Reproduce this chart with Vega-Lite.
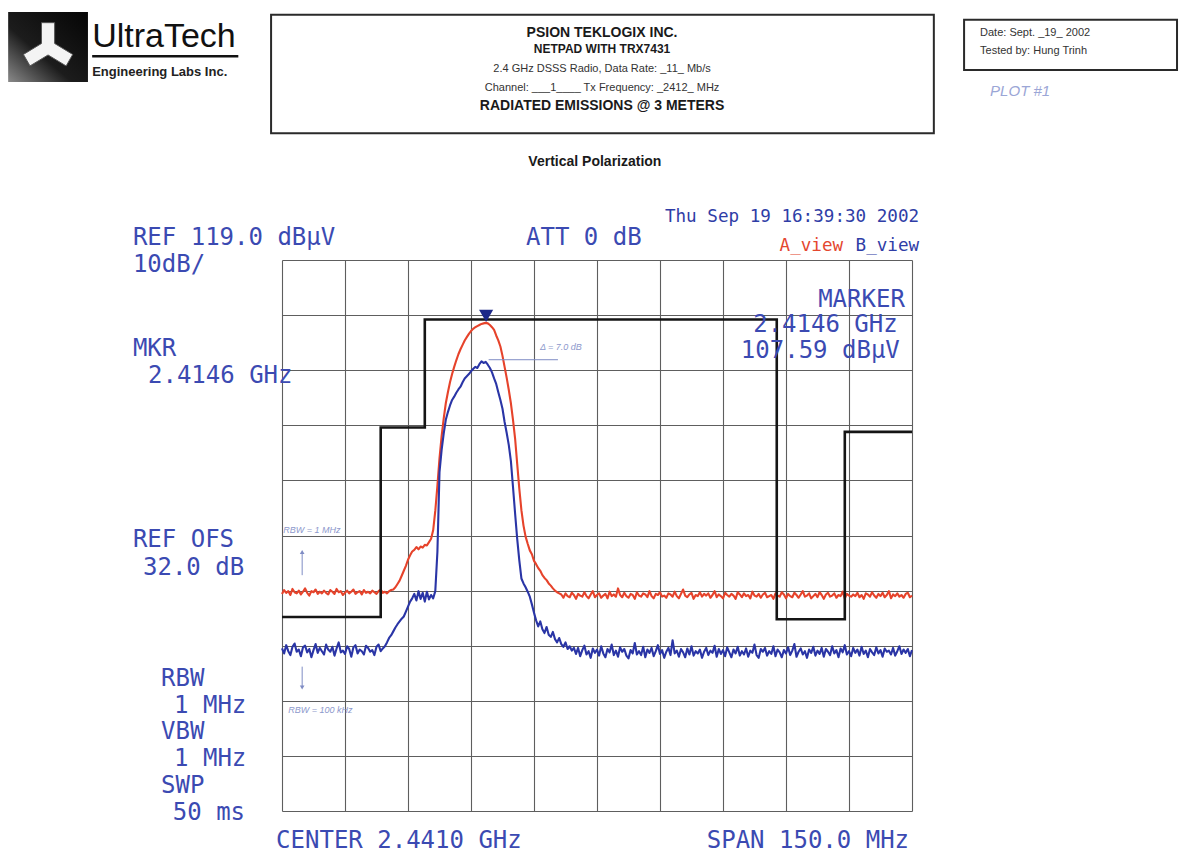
{
  "$schema": "https://vega.github.io/schema/vega-lite/v6.json",
  "width": 630,
  "height": 551,
  "autosize": {"type": "none"},
  "padding": {"left": 282, "top": 260, "right": 270, "bottom": 46},
  "background": "white",
  "config": {"view": {"stroke": null}},
  "datasets": {
    "trace": [
      {"f":2366,"a":58.4,"b":48.5},{"f":2366.5,"a":59.1,"b":47.6},{"f":2367,"a":58.6,"b":49.1},{"f":2367.5,"a":58.9,"b":48.0},
      {"f":2368,"a":58.2,"b":47.3},{"f":2368.5,"a":59.3,"b":48.8},{"f":2369,"a":58.7,"b":49.4},{"f":2369.5,"a":58.5,"b":47.9},
      {"f":2370,"a":59.0,"b":48.3},{"f":2370.5,"a":58.3,"b":47.1},{"f":2371,"a":58.8,"b":48.7},{"f":2371.5,"a":59.4,"b":49.0},
      {"f":2372,"a":58.6,"b":47.8},{"f":2372.5,"a":58.1,"b":48.4},{"f":2373,"a":58.9,"b":46.9},{"f":2373.5,"a":58.7,"b":48.2},
      {"f":2374,"a":59.2,"b":49.3},{"f":2374.5,"a":58.4,"b":47.7},{"f":2375,"a":58.8,"b":48.6},{"f":2375.5,"a":58.5,"b":48.0},
      {"f":2376,"a":59.0,"b":47.4},{"f":2376.5,"a":58.6,"b":49.2},{"f":2377,"a":58.3,"b":48.3},{"f":2377.5,"a":59.1,"b":47.9},
      {"f":2378,"a":58.8,"b":48.8},{"f":2378.5,"a":58.4,"b":47.2},{"f":2379,"a":59.3,"b":48.5},{"f":2379.5,"a":58.7,"b":49.6},
      {"f":2380,"a":58.9,"b":47.8},{"f":2380.5,"a":58.2,"b":48.1},{"f":2381,"a":58.6,"b":47.5},{"f":2381.5,"a":59.0,"b":48.9},
      {"f":2382,"a":58.5,"b":48.4},{"f":2382.5,"a":58.8,"b":47.0},{"f":2383,"a":59.2,"b":48.7},{"f":2383.5,"a":58.4,"b":49.1},
      {"f":2384,"a":58.7,"b":47.6},{"f":2384.5,"a":58.9,"b":48.3},{"f":2385,"a":58.3,"b":48.0},{"f":2385.5,"a":59.1,"b":47.4},
      {"f":2386,"a":58.6,"b":49.0},{"f":2386.5,"a":58.8,"b":48.6},{"f":2387,"a":58.5,"b":47.9},{"f":2387.5,"a":59.0,"b":48.2},
      {"f":2388,"a":58.7,"b":47.3},{"f":2388.5,"a":58.4,"b":48.8},{"f":2389,"a":58.9,"b":49.2},{"f":2389.5,"a":59.2,"b":48.0},
      {"f":2390,"a":58.6,"b":48.5},{"f":2390.5,"a":58.8,"b":48.9},{"f":2391,"a":58.5,"b":49.6},{"f":2391.5,"a":58.9,"b":50.4},
      {"f":2392,"a":59.1,"b":50.9},{"f":2392.5,"a":59.2,"b":51.6},{"f":2393,"a":59.6,"b":52.3},{"f":2393.5,"a":60.2,"b":52.9},
      {"f":2394,"a":60.8,"b":53.4},{"f":2394.5,"a":61.7,"b":53.9},{"f":2395,"a":62.6,"b":54.3},{"f":2395.5,"a":63.5,"b":55.2},
      {"f":2396,"a":64.6,"b":56.1},{"f":2396.5,"a":65.4,"b":57.0},{"f":2397,"a":66.1,"b":57.6},{"f":2397.5,"a":66.4,"b":58.4},
      {"f":2398,"a":66.9,"b":57.2},{"f":2398.5,"a":66.5,"b":58.9},{"f":2399,"a":67.0,"b":57.5},{"f":2399.5,"a":66.8,"b":58.6},
      {"f":2400,"a":67.3,"b":57.0},{"f":2400.5,"a":67.2,"b":58.8},{"f":2401,"a":67.8,"b":57.4},{"f":2401.5,"a":68.4,"b":58.2},
      {"f":2402,"a":70.0,"b":57.6},{"f":2402.5,"a":73.5,"b":58.9},{"f":2403,"a":78.0,"b":66.0},{"f":2403.5,"a":83.0,"b":80.5},
      {"f":2404,"a":87.0,"b":84.5},{"f":2404.5,"a":90.2,"b":87.5},{"f":2405,"a":93.0,"b":90.0},{"f":2405.5,"a":95.0,"b":91.4},
      {"f":2406,"a":96.8,"b":92.6},{"f":2406.5,"a":98.3,"b":93.6},{"f":2407,"a":99.6,"b":94.2},{"f":2407.5,"a":100.8,"b":94.9},
      {"f":2408,"a":101.9,"b":95.5},{"f":2408.5,"a":102.8,"b":96.0},{"f":2409,"a":103.6,"b":96.8},{"f":2409.5,"a":104.4,"b":97.5},
      {"f":2410,"a":105.0,"b":97.9},{"f":2410.5,"a":105.6,"b":98.3},{"f":2411,"a":106.1,"b":98.8},{"f":2411.5,"a":106.5,"b":99.2},
      {"f":2412,"a":106.8,"b":99.6},{"f":2412.5,"a":107.0,"b":99.4},{"f":2413,"a":107.2,"b":100.1},{"f":2413.5,"a":107.4,"b":100.6},
      {"f":2414,"a":107.5,"b":100.3},{"f":2414.5,"a":107.59,"b":100.5},{"f":2415,"a":107.5,"b":100.0},{"f":2415.5,"a":107.2,"b":99.4},
      {"f":2416,"a":106.8,"b":98.6},{"f":2416.5,"a":106.3,"b":97.5},{"f":2417,"a":105.3,"b":96.5},{"f":2417.5,"a":104.4,"b":95.0},
      {"f":2418,"a":103.3,"b":93.6},{"f":2418.5,"a":101.6,"b":92.0},{"f":2419,"a":99.6,"b":89.6},{"f":2419.5,"a":97.6,"b":87.6},
      {"f":2420,"a":95.4,"b":85.4},{"f":2420.5,"a":93.0,"b":82.5},{"f":2421,"a":90.0,"b":77.8},{"f":2421.5,"a":86.6,"b":73.0},
      {"f":2422,"a":82.0,"b":68.4},{"f":2422.5,"a":77.5,"b":64.5},{"f":2423,"a":73.6,"b":61.2},{"f":2423.5,"a":70.8,"b":60.3},
      {"f":2424,"a":68.8,"b":59.6},{"f":2424.5,"a":67.5,"b":58.8},{"f":2425,"a":66.3,"b":57.9},{"f":2425.5,"a":65.6,"b":56.5},
      {"f":2426,"a":64.4,"b":55.0},{"f":2426.5,"a":63.8,"b":53.6},{"f":2427,"a":63.1,"b":52.5},{"f":2427.5,"a":62.6,"b":53.4},
      {"f":2428,"a":61.8,"b":52.0},{"f":2428.5,"a":61.3,"b":51.3},{"f":2429,"a":60.9,"b":52.4},{"f":2429.5,"a":60.3,"b":51.0},
      {"f":2430,"a":59.9,"b":50.6},{"f":2430.5,"a":59.4,"b":51.5},{"f":2431,"a":59.0,"b":50.2},{"f":2431.5,"a":58.7,"b":49.6},
      {"f":2432,"a":58.5,"b":50.4},{"f":2432.5,"a":58.3,"b":49.3},{"f":2433,"a":57.7,"b":48.8},{"f":2433.5,"a":58.5,"b":49.6},
      {"f":2434,"a":58.0,"b":48.4},{"f":2434.5,"a":57.8,"b":48.9},{"f":2435,"a":58.6,"b":48.1},{"f":2435.5,"a":58.2,"b":48.6},
      {"f":2436,"a":57.5,"b":47.5},{"f":2436.5,"a":58.4,"b":48.6},{"f":2437,"a":58.1,"b":47.1},{"f":2437.5,"a":57.9,"b":48.2},
      {"f":2438,"a":58.7,"b":49.0},{"f":2438.5,"a":58.0,"b":47.4},{"f":2439,"a":57.6,"b":48.0},{"f":2439.5,"a":58.3,"b":46.8},
      {"f":2440,"a":58.9,"b":48.5},{"f":2440.5,"a":57.8,"b":47.7},{"f":2441,"a":58.2,"b":48.3},{"f":2441.5,"a":58.5,"b":47.2},
      {"f":2442,"a":57.7,"b":48.9},{"f":2442.5,"a":58.1,"b":47.6},{"f":2443,"a":58.4,"b":46.9},{"f":2443.5,"a":57.6,"b":48.4},
      {"f":2444,"a":58.8,"b":47.8},{"f":2444.5,"a":58.0,"b":49.2},{"f":2445,"a":58.3,"b":47.3},{"f":2445.5,"a":57.9,"b":48.1},
      {"f":2446,"a":59.4,"b":47.0},{"f":2446.5,"a":58.2,"b":48.7},{"f":2447,"a":57.8,"b":47.9},{"f":2447.5,"a":58.6,"b":48.4},
      {"f":2448,"a":58.0,"b":47.2},{"f":2448.5,"a":57.7,"b":46.7},{"f":2449,"a":58.4,"b":48.2},{"f":2449.5,"a":58.2,"b":47.6},
      {"f":2450,"a":57.5,"b":49.5},{"f":2450.5,"a":58.7,"b":47.4},{"f":2451,"a":58.1,"b":48.0},{"f":2451.5,"a":57.9,"b":47.3},
      {"f":2452,"a":58.5,"b":48.8},{"f":2452.5,"a":58.3,"b":46.9},{"f":2453,"a":57.8,"b":48.3},{"f":2453.5,"a":58.9,"b":47.7},
      {"f":2454,"a":58.0,"b":48.6},{"f":2454.5,"a":57.6,"b":47.1},{"f":2455,"a":58.4,"b":48.0},{"f":2455.5,"a":58.2,"b":49.1},
      {"f":2456,"a":58.7,"b":47.5},{"f":2456.5,"a":57.9,"b":48.2},{"f":2457,"a":58.1,"b":46.8},{"f":2457.5,"a":57.7,"b":47.9},
      {"f":2458,"a":58.5,"b":48.6},{"f":2458.5,"a":58.3,"b":47.3},{"f":2459,"a":57.9,"b":50.0},{"f":2459.5,"a":58.8,"b":47.6},
      {"f":2460,"a":58.0,"b":48.1},{"f":2460.5,"a":57.6,"b":47.0},{"f":2461,"a":58.4,"b":48.4},{"f":2461.5,"a":59.2,"b":47.8},
      {"f":2462,"a":58.1,"b":46.9},{"f":2462.5,"a":57.8,"b":48.5},{"f":2463,"a":58.3,"b":47.4},{"f":2463.5,"a":58.6,"b":48.9},
      {"f":2464,"a":57.5,"b":47.2},{"f":2464.5,"a":58.2,"b":48.0},{"f":2465,"a":58.0,"b":47.6},{"f":2465.5,"a":58.7,"b":48.3},
      {"f":2466,"a":57.9,"b":46.8},{"f":2466.5,"a":58.4,"b":47.9},{"f":2467,"a":58.1,"b":48.6},{"f":2467.5,"a":58.5,"b":47.3},
      {"f":2468,"a":57.7,"b":48.1},{"f":2468.5,"a":58.2,"b":47.7},{"f":2469,"a":58.9,"b":49.0},{"f":2469.5,"a":57.8,"b":47.0},
      {"f":2470,"a":58.3,"b":48.4},{"f":2470.5,"a":58.0,"b":47.5},{"f":2471,"a":57.6,"b":48.2},{"f":2471.5,"a":58.6,"b":47.1},
      {"f":2472,"a":58.2,"b":48.7},{"f":2472.5,"a":57.9,"b":47.8},{"f":2473,"a":58.4,"b":46.9},{"f":2473.5,"a":58.1,"b":48.3},
      {"f":2474,"a":57.5,"b":47.6},{"f":2474.5,"a":58.7,"b":48.8},{"f":2475,"a":58.3,"b":47.2},{"f":2475.5,"a":57.8,"b":48.0},
      {"f":2476,"a":58.5,"b":47.4},{"f":2476.5,"a":58.0,"b":48.5},{"f":2477,"a":58.2,"b":47.0},{"f":2477.5,"a":57.6,"b":48.1},
      {"f":2478,"a":58.8,"b":47.7},{"f":2478.5,"a":58.1,"b":49.2},{"f":2479,"a":57.9,"b":47.3},{"f":2479.5,"a":58.4,"b":46.8},
      {"f":2480,"a":57.7,"b":48.4},{"f":2480.5,"a":58.3,"b":47.9},{"f":2481,"a":58.6,"b":48.6},{"f":2481.5,"a":57.8,"b":47.2},
      {"f":2482,"a":58.0,"b":48.0},{"f":2482.5,"a":58.2,"b":47.5},{"f":2483,"a":57.5,"b":48.9},{"f":2483.5,"a":58.5,"b":47.1},
      {"f":2484,"a":58.1,"b":48.3},{"f":2484.5,"a":57.9,"b":47.8},{"f":2485,"a":58.7,"b":46.9},{"f":2485.5,"a":58.3,"b":48.2},
      {"f":2486,"a":57.6,"b":47.6},{"f":2486.5,"a":58.4,"b":48.7},{"f":2487,"a":58.0,"b":47.3},{"f":2487.5,"a":57.8,"b":48.1},
      {"f":2488,"a":58.6,"b":49.3},{"f":2488.5,"a":58.2,"b":47.0},{"f":2489,"a":57.7,"b":47.9},{"f":2489.5,"a":58.3,"b":48.5},
      {"f":2490,"a":58.9,"b":47.4},{"f":2490.5,"a":57.9,"b":48.0},{"f":2491,"a":58.1,"b":46.8},{"f":2491.5,"a":58.5,"b":48.3},
      {"f":2492,"a":57.6,"b":47.7},{"f":2492.5,"a":58.0,"b":48.8},{"f":2493,"a":58.4,"b":47.2},{"f":2493.5,"a":57.8,"b":48.1},
      {"f":2494,"a":58.7,"b":47.5},{"f":2494.5,"a":58.2,"b":48.6},{"f":2495,"a":57.5,"b":47.0},{"f":2495.5,"a":58.3,"b":48.4},
      {"f":2496,"a":58.6,"b":47.9},{"f":2496.5,"a":57.9,"b":47.3},{"f":2497,"a":58.1,"b":48.9},{"f":2497.5,"a":58.5,"b":47.6},
      {"f":2498,"a":57.7,"b":48.2},{"f":2498.5,"a":58.2,"b":46.9},{"f":2499,"a":58.0,"b":48.5},{"f":2499.5,"a":58.8,"b":47.8},
      {"f":2500,"a":57.6,"b":49.1},{"f":2500.5,"a":58.4,"b":47.4},{"f":2501,"a":58.1,"b":48.0},{"f":2501.5,"a":57.9,"b":47.1},
      {"f":2502,"a":58.3,"b":48.6},{"f":2502.5,"a":58.0,"b":47.7},{"f":2503,"a":58.6,"b":48.3},{"f":2503.5,"a":57.8,"b":47.2},
      {"f":2504,"a":58.2,"b":48.8},{"f":2504.5,"a":57.5,"b":47.5},{"f":2505,"a":58.5,"b":48.1},{"f":2505.5,"a":58.3,"b":46.9},
      {"f":2506,"a":57.9,"b":48.4},{"f":2506.5,"a":58.7,"b":47.8},{"f":2507,"a":58.1,"b":47.3},{"f":2507.5,"a":57.7,"b":48.7},
      {"f":2508,"a":58.4,"b":47.6},{"f":2508.5,"a":58.0,"b":48.2},{"f":2509,"a":58.6,"b":47.0},{"f":2509.5,"a":57.8,"b":48.5},
      {"f":2510,"a":58.2,"b":47.9},{"f":2510.5,"a":58.9,"b":48.1},{"f":2511,"a":57.6,"b":47.4},{"f":2511.5,"a":58.3,"b":48.6},
      {"f":2512,"a":58.0,"b":47.2},{"f":2512.5,"a":58.5,"b":48.0},{"f":2513,"a":57.9,"b":48.9},{"f":2513.5,"a":58.2,"b":47.5},
      {"f":2514,"a":57.7,"b":48.3},{"f":2514.5,"a":58.4,"b":47.7},{"f":2515,"a":58.6,"b":48.4},{"f":2515.5,"a":57.8,"b":47.1},
      {"f":2516,"a":58.1,"b":48.2}
    ],
    "limit": [
      {"f":2366,"v":54.2},{"f":2389.5,"v":88.6},{"f":2400,"v":108.2},
      {"f":2483.8,"v":53.8},{"f":2500,"v":87.8},{"f":2516,"v":87.8}
    ],
    "marker": [{"f":2414.6,"v":107.59}],
    "monoLeft": [
      {"f":2330.5,"v":121.7,"t":"REF 119.0 dBµV"},
      {"f":2330.5,"v":116.8,"t":"10dB/"},
      {"f":2424.1,"v":121.7,"t":"ATT 0 dB"},
      {"f":2330.5,"v":101.5,"t":"MKR"},
      {"f":2334.1,"v":96.6,"t":"2.4146 GHz"},
      {"f":2330.5,"v":67.0,"t":"REF OFS"},
      {"f":2332.9,"v":61.8,"t":"32.0 dB"},
      {"f":2337.2,"v":41.7,"t":"RBW"},
      {"f":2340.3,"v":36.8,"t":"1 MHz"},
      {"f":2337.2,"v":32.1,"t":"VBW"},
      {"f":2340.3,"v":27.2,"t":"1 MHz"},
      {"f":2337.2,"v":22.3,"t":"SWP"},
      {"f":2340.0,"v":17.4,"t":"50 ms"},
      {"f":2364.6,"v":12.2,"t":"CENTER 2.4410 GHz"}
    ],
    "monoRight": [
      {"f":2514.3,"v":110.5,"t":"MARKER"},
      {"f":2512.6,"v":105.9,"t":"2.4146 GHz"},
      {"f":2513.1,"v":101.2,"t":"107.59 dBµV"},
      {"f":2515.3,"v":12.2,"t":"SPAN 150.0 MHz"}
    ],
    "monoSmall": [
      {"f":2517.7,"v":125.9,"t":"Thu Sep 19 16:39:30 2002"},
      {"f":2517.7,"v":120.6,"t":"B_view"}
    ],
    "monoSmallRed": [{"f":2499.6,"v":120.6,"t":"A_view"}],
    "boxes": [
      {"f":2363.4,"f2":2521.2,"v":163.5,"v2":142.0},
      {"f":2528.4,"f2":2579.1,"v":162.6,"v2":153.5}
    ]
  },
  "encoding": {
    "x": {
      "field": "f",
      "type": "quantitative",
      "scale": {"domain": [2366, 2516], "nice": false, "zero": false},
      "axis": {
        "values": [2366, 2381, 2396, 2411, 2426, 2441, 2456, 2471, 2486, 2501, 2516],
        "grid": true, "gridColor": "#5e5e5e", "gridWidth": 1.1,
        "labels": false, "ticks": false, "domain": false, "title": null
      }
    },
    "y": {
      "field": "v",
      "type": "quantitative",
      "scale": {"domain": [19, 119], "nice": false, "zero": false},
      "axis": {
        "values": [19, 29, 39, 49, 59, 69, 79, 89, 99, 109, 119],
        "grid": true, "gridColor": "#5e5e5e", "gridWidth": 1.1,
        "labels": false, "ticks": false, "domain": false, "title": null
      }
    }
  },
  "layer": [
    {
      "data": {"values": [{"f":2300.8,"f2":2319.8,"v":164.0,"v2":151.3}]},
      "mark": {"type": "rect", "fill": {"gradient": "linear", "x1": 1, "y1": 0, "x2": 0, "y2": 1,
        "stops": [{"offset": 0, "color": "#050505"}, {"offset": 0.6, "color": "#1c1c1c"}, {"offset": 1, "color": "#8a8a8a"}]}},
      "encoding": {"x2": {"field": "f2"}, "y2": {"field": "v2"}}
    },
    {
      "data": {"values": [{"f":2310.3,"v":157.6}]},
      "mark": {"type": "point", "filled": true, "fill": "#f4f4f4", "stroke": "#555", "strokeWidth": 1, "size": 3000, "opacity": 1,
        "shape": "M -0.24 -0.9 L 0.24 -0.9 L 0.24 -0.14 L 0.9 0.26 L 0.66 0.68 L 0 0.28 L -0.66 0.68 L -0.9 0.26 L -0.24 -0.14 Z"}
    },
    {
      "data": {"values": [{"f":2320.8,"v":157.7,"t":"UltraTech"}]},
      "mark": {"type": "text", "align": "left", "baseline": "alphabetic", "font": "Liberation Sans", "fontSize": 34, "color": "#111"},
      "encoding": {"text": {"field": "t"}}
    },
    {
      "data": {"values": [{"f":2320.8,"f2":2355.6,"v":156.0}]},
      "mark": {"type": "rule", "color": "#111", "strokeWidth": 2.5},
      "encoding": {"x2": {"field": "f2"}}
    },
    {
      "data": {"values": [{"f":2320.8,"v":152.4,"t":"Engineering Labs Inc."}]},
      "mark": {"type": "text", "align": "left", "baseline": "alphabetic", "font": "Liberation Sans", "fontSize": 13, "fontWeight": "bold", "color": "#222"},
      "encoding": {"text": {"field": "t"}}
    },
    {
      "data": {"name": "boxes"},
      "mark": {"type": "rect", "fill": "white", "stroke": "#2a2a2a", "strokeWidth": 2},
      "encoding": {"x2": {"field": "f2"}, "y2": {"field": "v2"}}
    },
    {
      "data": {"values": [
        {"f":2442.2,"v":159.5,"t":"PSION TEKLOGIX INC."},
        {"f":2442.2,"v":146.2,"t":"RADIATED EMISSIONS @ 3 METERS"}
      ]},
      "mark": {"type": "text", "align": "center", "baseline": "alphabetic", "font": "Liberation Sans", "fontSize": 14, "fontWeight": "bold", "color": "#1a1a1a"},
      "encoding": {"text": {"field": "t"}}
    },
    {
      "data": {"values": [{"f":2442.2,"v":156.6,"t":"NETPAD WITH TRX7431"}]},
      "mark": {"type": "text", "align": "center", "baseline": "alphabetic", "font": "Liberation Sans", "fontSize": 12, "fontWeight": "bold", "color": "#1a1a1a"},
      "encoding": {"text": {"field": "t"}}
    },
    {
      "data": {"values": [
        {"f":2442.2,"v":153.1,"t":"2.4 GHz DSSS Radio, Data Rate: _11_ Mb/s"},
        {"f":2442.2,"v":149.7,"t":"Channel: ___1____ Tx Frequency: _2412_ MHz"}
      ]},
      "mark": {"type": "text", "align": "center", "baseline": "alphabetic", "font": "Liberation Sans", "fontSize": 11, "color": "#333"},
      "encoding": {"text": {"field": "t"}}
    },
    {
      "data": {"values": [
        {"f":2532.2,"v":159.7,"t":"Date: Sept. _19_ 2002"},
        {"f":2532.2,"v":156.3,"t":"Tested by:  Hung Trinh"}
      ]},
      "mark": {"type": "text", "align": "left", "baseline": "alphabetic", "font": "Liberation Sans", "fontSize": 11, "color": "#333"},
      "encoding": {"text": {"field": "t"}}
    },
    {
      "data": {"values": [{"f":2534.6,"v":148.8,"t":"PLOT #1"}]},
      "mark": {"type": "text", "align": "left", "baseline": "alphabetic", "font": "Liberation Sans", "fontSize": 15, "fontStyle": "italic", "color": "#9ba6d6"},
      "encoding": {"text": {"field": "t"}}
    },
    {
      "data": {"values": [{"f":2440.5,"v":136.1,"t":"Vertical Polarization"}]},
      "mark": {"type": "text", "align": "center", "baseline": "alphabetic", "font": "Liberation Sans", "fontSize": 14, "fontWeight": "bold", "color": "#1a1a1a"},
      "encoding": {"text": {"field": "t"}}
    },
    {
      "data": {"name": "trace"},
      "transform": [{"fold": ["a", "b"], "as": ["view", "v"]}],
      "mark": {"type": "line", "strokeWidth": 2.1, "strokeJoin": "round"},
      "encoding": {
        "color": {"field": "view", "type": "nominal", "scale": {"domain": ["a", "b"], "range": ["#e6432b", "#2a35a6"]}, "legend": null}
      }
    },
    {
      "data": {"name": "limit"},
      "mark": {"type": "line", "interpolate": "step-after", "color": "#151515", "strokeWidth": 2.6}
    },
    {
      "data": {"name": "marker"},
      "mark": {"type": "point", "shape": "triangle-down", "filled": true, "color": "#1d2888", "size": 200, "opacity": 1, "yOffset": -7}
    },
    {
      "data": {"values": [{"f":2415.2,"f2":2431.7,"v":100.9}]},
      "mark": {"type": "rule", "color": "#7f8cc4", "strokeWidth": 1},
      "encoding": {"x2": {"field": "f2"}}
    },
    {
      "data": {"values": [
        {"f":2427.4,"v":102.6,"t":"Δ = 7.0 dB"},
        {"f":2366.3,"v":69.5,"t":"RBW = 1 MHz"},
        {"f":2367.5,"v":36.8,"t":"RBW = 100 kHz"}
      ]},
      "mark": {"type": "text", "align": "left", "baseline": "alphabetic", "font": "Liberation Sans", "fontSize": 9, "fontStyle": "italic", "color": "#8d98cc"},
      "encoding": {"text": {"field": "t"}}
    },
    {
      "data": {"values": [{"f":2370.8,"v":61.8,"v2":66.0},{"f":2370.8,"v":45.2,"v2":41.6}]},
      "mark": {"type": "rule", "color": "#7f8cc4", "strokeWidth": 1},
      "encoding": {"y2": {"field": "v2"}}
    },
    {
      "data": {"values": [{"f":2370.8,"v":66.0}]},
      "mark": {"type": "point", "shape": "triangle-up", "filled": true, "color": "#7f8cc4", "size": 22, "opacity": 1}
    },
    {
      "data": {"values": [{"f":2370.8,"v":41.4}]},
      "mark": {"type": "point", "shape": "triangle-down", "filled": true, "color": "#7f8cc4", "size": 22, "opacity": 1}
    },
    {
      "data": {"name": "monoLeft"},
      "mark": {"type": "text", "align": "left", "baseline": "alphabetic", "font": "DejaVu Sans Mono", "fontSize": 24, "color": "#3b4ab2"},
      "encoding": {"text": {"field": "t"}}
    },
    {
      "data": {"name": "monoRight"},
      "mark": {"type": "text", "align": "right", "baseline": "alphabetic", "font": "DejaVu Sans Mono", "fontSize": 24, "color": "#3b4ab2"},
      "encoding": {"text": {"field": "t"}}
    },
    {
      "data": {"name": "monoSmall"},
      "mark": {"type": "text", "align": "right", "baseline": "alphabetic", "font": "DejaVu Sans Mono", "fontSize": 17.6, "color": "#2f3da6"},
      "encoding": {"text": {"field": "t"}}
    },
    {
      "data": {"name": "monoSmallRed"},
      "mark": {"type": "text", "align": "right", "baseline": "alphabetic", "font": "DejaVu Sans Mono", "fontSize": 17.6, "color": "#e4472f"},
      "encoding": {"text": {"field": "t"}}
    }
  ]
}
